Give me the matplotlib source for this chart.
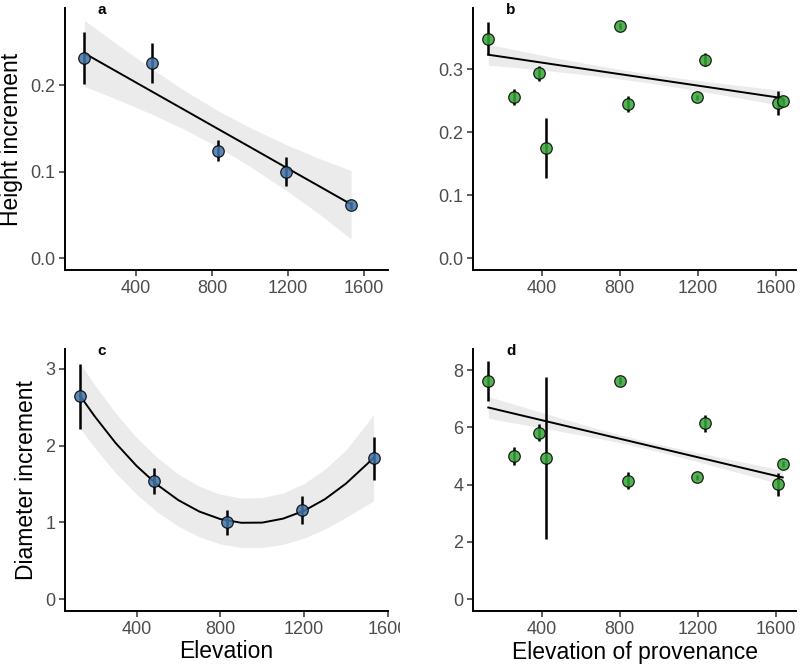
import numpy as np
import matplotlib
matplotlib.use("Agg")
import matplotlib.pyplot as plt
from matplotlib.patches import Rectangle

plt.rcParams['font.family'] = ['Liberation Sans', 'DejaVu Sans']

# --- data ---
# panels a / c: site means by elevation
elev = [128, 486, 833, 1188, 1532]
elev_c = [129, 484, 830, 1190, 1534]
height_mean = [0.231, 0.225, 0.124, 0.100, 0.061]
height_err = [0.030, 0.023, 0.012, 0.017, 0.004]
diam_mean = [2.643, 1.534, 1.000, 1.165, 1.839]
diam_err = [0.42, 0.17, 0.165, 0.185, 0.28]

# panels b / d: provenance means
prov_elev = [126, 258, 386, 420, 801, 841, 1195, 1237, 1610, 1636]
prov_height = [0.3485, 0.2563, 0.2932, 0.1747, 0.3684, 0.2447, 0.2553, 0.3153, 0.2458, 0.2494]
prov_height_err = [0.026, 0.013, 0.012, 0.0475, 0.005, 0.012, 0.004, 0.010, 0.019, 0.005]
prov_diam = [7.625, 5.00, 5.82, 4.93, 7.625, 4.14, 4.255, 6.14, 4.02, 4.72]
prov_diam_err = [0.70, 0.32, 0.29, 2.82, 0.12, 0.29, 0.10, 0.29, 0.40, 0.10]

# fitted lines and confidence bands (read at a few elevations)
fit_a_x = [128, 300, 480, 650, 830, 1000, 1190, 1360, 1532]
fit_a_y = [0.2367, 0.2153, 0.1929, 0.1718, 0.1494, 0.1283, 0.1046, 0.0835, 0.0621]
fit_a_lo = [0.1986, 0.1834, 0.1666, 0.1493, 0.1284, 0.1059, 0.0781, 0.0516, 0.0220]
fit_a_hi = [0.2748, 0.2472, 0.2192, 0.1943, 0.1704, 0.1507, 0.1311, 0.1154, 0.1012]

fit_c_x = [128, 200, 300, 400, 500, 600, 700, 800, 900, 1000, 1100, 1200, 1300, 1400, 1500, 1532]
fit_c_y = [2.658, 2.382, 2.034, 1.736, 1.4875, 1.289, 1.141, 1.043, 0.995, 0.997,
           1.049, 1.151, 1.303, 1.5055, 1.758, 1.843]
fit_c_lo = [2.234, 1.972, 1.644, 1.366, 1.1325, 0.949, 0.811, 0.719, 0.673, 0.672,
            0.714, 0.796, 0.913, 1.0655, 1.228, 1.278]
fit_c_hi = [3.082, 2.792, 2.424, 2.106, 1.8425, 1.629, 1.471, 1.367, 1.317, 1.322,
            1.384, 1.506, 1.693, 1.9455, 2.288, 2.408]

fit_b_x = [126, 300, 500, 700, 900, 1100, 1300, 1450, 1636]
fit_b_y = [0.3229, 0.3150, 0.3058, 0.2967, 0.2876, 0.2785, 0.2694, 0.2625, 0.2540]
fit_b_lo = [0.3064, 0.3015, 0.2953, 0.2885, 0.2804, 0.2710, 0.2606, 0.2523, 0.2420]
fit_b_hi = [0.3394, 0.3285, 0.3163, 0.3049, 0.2948, 0.2860, 0.2782, 0.2727, 0.2660]

fit_d_x = [126, 300, 500, 700, 900, 1100, 1300, 1450, 1636]
fit_d_y = [6.697, 6.4155, 6.092, 5.7685, 5.445, 5.1215, 4.798, 4.555, 4.2544]
fit_d_lo = [6.317, 6.1055, 5.862, 5.6085, 5.315, 4.9815, 4.618, 4.345, 4.0044]
fit_d_hi = [7.077, 6.7255, 6.322, 5.9285, 5.575, 5.2615, 4.978, 4.765, 4.5044]

blue = '#3F73A6'
green = '#35A535'
band = '#EBEBEB'

fig = plt.figure(figsize=(8, 6.69), dpi=100)
W, H = 800, 669


def add_ax(left, top, right, bottom):
    return fig.add_axes([left / W, 1 - bottom / H, (right - left) / W, (bottom - top) / H])


ax_a = add_ax(65, 8, 388, 270)
ax_b = add_ax(473.3, 8, 796, 270)
ax_c = add_ax(65, 349, 388, 611)
ax_d = add_ax(473.3, 349, 796, 611)


def panel(ax, x, y, err, fx, fy, flo, fhi, color):
    ax.fill_between(fx, flo, fhi, color=band, lw=0, zorder=1)
    ax.plot(fx, fy, color='black', lw=1.4, zorder=2)
    ax.errorbar(x, y, yerr=err, fmt='none', ecolor='black', elinewidth=1.8, capsize=0, zorder=3)
    ax.plot(x, y, 'o', ms=8.3, mfc=color, mec='black', mew=0.9, alpha=0.85, zorder=4)
    for s in ['top', 'right']:
        ax.spines[s].set_visible(False)
    for s in ['left', 'bottom']:
        ax.spines[s].set_linewidth(1.4)
    ax.tick_params(direction='out', length=4, width=1.1, color='#333333',
                   labelcolor='#4D4D4D', labelsize=13, pad=3)
    ax.set_xticks([400, 800, 1200, 1600])


panel(ax_a, elev, height_mean, height_err, fit_a_x, fit_a_y, fit_a_lo, fit_a_hi, blue)
panel(ax_b, prov_elev, prov_height, prov_height_err, fit_b_x, fit_b_y, fit_b_lo, fit_b_hi, green)
panel(ax_c, elev_c, diam_mean, diam_err, fit_c_x, fit_c_y, fit_c_lo, fit_c_hi, blue)
panel(ax_d, prov_elev, prov_diam, prov_diam_err, fit_d_x, fit_d_y, fit_d_lo, fit_d_hi, green)

ax_a.set_xlim(26, 1726)
ax_a.set_ylim(-0.0138, 0.289)
ax_a.set_yticks([0.0, 0.1, 0.2])
ax_a.set_yticklabels(['0.0', '0.1', '0.2'])

ax_b.set_xlim(49, 1704)
ax_b.set_ylim(-0.0185, 0.397)
ax_b.set_yticks([0.0, 0.1, 0.2, 0.3])
ax_b.set_yticklabels(['0.0', '0.1', '0.2', '0.3'])

ax_c.set_xlim(58, 1601)
ax_c.set_ylim(-0.155, 3.26)
ax_c.set_yticks([0, 1, 2, 3])

ax_d.set_xlim(49, 1704)
ax_d.set_ylim(-0.41, 8.74)
ax_d.set_yticks([0, 2, 4, 6, 8])

ax_a.set_ylabel('Height increment', fontsize=16.5, labelpad=5)
ax_c.set_ylabel('Diameter increment', fontsize=16.5, labelpad=5)
ax_c.set_xlabel('Elevation', fontsize=16.5, labelpad=2)
ax_d.set_xlabel('Elevation of provenance', fontsize=16.5, labelpad=2)

for tag, px, py in [('a', 101.7, 10), ('b', 511, 10), ('c', 101.7, 351), ('d', 511, 351)]:
    fig.text(px / W, 1 - py / H, tag, fontsize=11, fontweight='bold', ha='center', va='center')

# panel d covers the right part of panel c's last tick label
fig.add_artist(Rectangle((400 / W, 1 - 645 / H), 45 / W, 35 / H, transform=fig.transFigure,
                         facecolor='white', edgecolor='none', zorder=5))

plt.savefig('out.png', dpi=100)
